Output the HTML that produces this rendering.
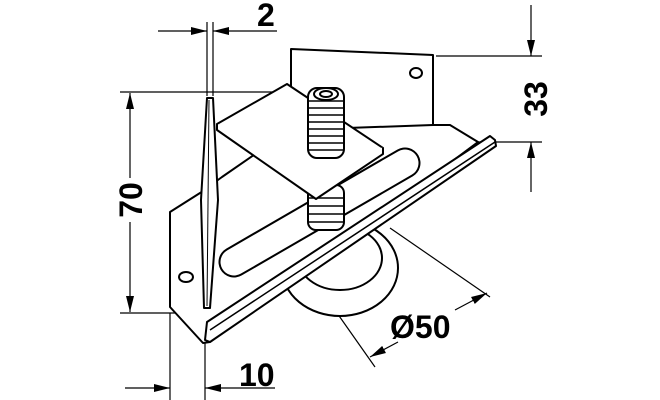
<!DOCTYPE html>
<html><head><meta charset="utf-8"><style>html,body{margin:0;padding:0;background:#fff}svg{display:block}text{font-family:"Liberation Sans",sans-serif;font-weight:bold;fill:#000}</style></head>
<body>
<svg width="660" height="400" viewBox="0 0 660 400" xmlns="http://www.w3.org/2000/svg">
<defs>
<marker id="A" viewBox="0 0 16 10" refX="16" refY="5" markerWidth="16" markerHeight="10" markerUnits="userSpaceOnUse" orient="auto"><path d="M0,1 L16,5 L0,9z" fill="#000"/></marker></defs>
<g stroke="#000" stroke-width="1.2" fill="none">
<line x1="207" y1="22" x2="207" y2="96"/><line x1="213" y1="22" x2="213" y2="96"/>
<line x1="158" y1="31" x2="207" y2="31" marker-end="url(#A)"/>
<line x1="277" y1="31" x2="213" y2="31" marker-end="url(#A)"/>
<line x1="120" y1="92" x2="300" y2="92"/><line x1="120" y1="313" x2="200" y2="313"/>
<line x1="130" y1="178" x2="130" y2="93" marker-end="url(#A)"/>
<line x1="130" y1="222" x2="130" y2="312" marker-end="url(#A)"/>
<line x1="436" y1="56" x2="542" y2="56"/><line x1="436" y1="142" x2="542" y2="142"/>
<line x1="531" y1="5" x2="531" y2="56" marker-end="url(#A)"/>
<line x1="531" y1="192" x2="531" y2="142" marker-end="url(#A)"/>
<line x1="170" y1="313" x2="170" y2="400"/><line x1="205" y1="340" x2="205" y2="400"/>
<line x1="125" y1="388" x2="170" y2="388" marker-end="url(#A)"/>
<line x1="275" y1="388" x2="205" y2="388" marker-end="url(#A)"/>
<line x1="330" y1="303" x2="375" y2="367"/><line x1="390" y1="228" x2="490" y2="297"/>
<line x1="398" y1="342" x2="370" y2="357" marker-end="url(#A)"/>
<line x1="455" y1="310" x2="487" y2="293" marker-end="url(#A)"/>
</g>
<g stroke="#000" stroke-width="2" fill="#fff" stroke-linejoin="round">
<path d="M291,49 L433,55 L433,141 L291,141z"/>
<ellipse cx="416" cy="73" rx="6" ry="5"/>
<ellipse cx="340" cy="268" rx="58" ry="48"/>
<ellipse cx="340" cy="258" rx="42" ry="32"/>
<path d="M170,212 L200,193 L222,177 L290,130 L433,125 L450,125 L478,142 L210,342 L203,343 L170,307z"/>
<ellipse cx="186" cy="277" rx="7" ry="5"/>
</g>
<path d="M234,262 L405,163" stroke="#000" stroke-width="31" stroke-linecap="round"/>
<path d="M234,262 L405,163" stroke="#fff" stroke-width="27" stroke-linecap="round"/>
<g stroke="#000" stroke-width="2" fill="#fff" stroke-linejoin="round">
<rect x="308" y="185" width="36" height="45" rx="8"/>
<path d="M309,198 h34 M309,206 h34 M309,214 h34 M309,222 h34" stroke-width="1.5"/>
<path d="M217,124 L287,84 L383,148 L316,193z"/>
<path d="M217,124 L217,130 L316,199 L383,154 L383,148" />
<rect x="308" y="88" width="36" height="70" rx="9"/>
<path d="M309,101 h34 M309,108 h34 M309,115 h34 M309,122 h34 M309,129 h34 M309,136 h34 M309,143 h34 M309,150 h34" stroke-width="1.5"/>
<ellipse cx="326" cy="94" rx="12" ry="6"/>
<ellipse cx="326" cy="94" rx="6" ry="3"/>
<path d="M207,322 L490,136 L495,140 L496,146 L210,342 L205,340z"/>
<line x1="210" y1="330" x2="495" y2="142" stroke-width="1.5"/>
<path d="M207,98 L213,98 L218,200 L210,308 L204,308 L201,200z"/>
<line x1="209" y1="100" x2="207" y2="306" stroke-width="1"/>
</g>
<text x="257" y="26" font-size="32">2</text>
<text x="239" y="386" font-size="32">10</text>
<text x="390" y="338" font-size="32">Ø50</text>
<text transform="translate(142,200) rotate(-90)" font-size="32" text-anchor="middle">70</text>
<text transform="translate(547,99) rotate(-90)" font-size="32" text-anchor="middle">33</text>
</svg>
</body></html>
